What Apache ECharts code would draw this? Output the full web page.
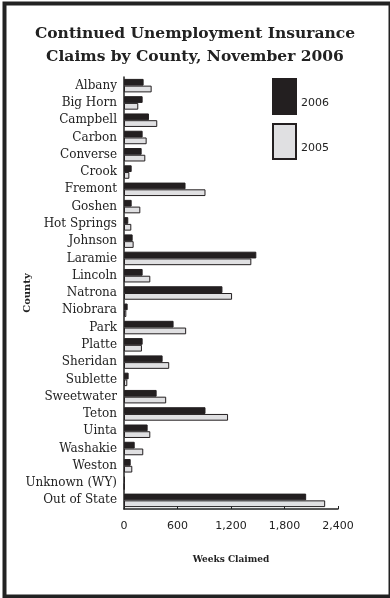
<!DOCTYPE html>
<html><head><meta charset="utf-8">
<script src="https://cdn.jsdelivr.net/npm/echarts@6/dist/echarts.min.js"></script>
<style>html,body{margin:0;padding:0;background:#fff}#c{width:390px;height:598px}</style>
</head><body><div id="c"></div>
<script>
const counties = ["Albany","Big Horn","Campbell","Carbon","Converse","Crook","Fremont","Goshen","Hot Springs","Johnson","Laramie","Lincoln","Natrona","Niobrara","Park","Platte","Sheridan","Sublette","Sweetwater","Teton","Uinta","Washakie","Weston","Unknown (WY)","Out of State"];
const claims2006 = [220,209,280,209,198,86,690,86,48,97,1484,209,1104,41,556,209,433,52,366,914,265,120,75,10,2043];
const claims2005 = [310,160,373,254,239,60,914,183,82,108,1428,295,1212,26,697,201,507,37,473,1167,295,216,93,5,2256];
const xTicks = [0,600,1200,1800,2400];
</script>
<script>
const chart = echarts.init(document.getElementById('c'));
const serif = '"DejaVu Serif", serif';
const sans = '"DejaVu Sans", sans-serif';
function commas(v){return String(v).replace(/\B(?=(\d{3})+(?!\d))/g, ',');}
chart.setOption({
  animation:false,
  backgroundColor:'#fff',
  title:{
    text:'Continued Unemployment Insurance\nClaims by County, November 2006',
    left:'center', top:17,
    textStyle:{fontFamily:serif,fontWeight:'bold',fontSize:15.5,lineHeight:23,color:'#222'}
  },
  legend:{
    orient:'vertical', left:267, top:73,
    icon:'rect',
    itemWidth:23, itemHeight:35, itemGap:8,
    data:['2006','2005'],
    formatter:function(n){return '\n' + n;},
    textStyle:{fontFamily:sans,fontSize:11,color:'#222',lineHeight:13}
  },
  grid:{left:124,right:52,top:77,bottom:89},
  xAxis:{
    type:'value', min:xTicks[0], max:xTicks[xTicks.length-1], interval:600,
    name:'Weeks Claimed', nameLocation:'middle', nameGap:46,
    nameTextStyle:{fontFamily:serif,fontWeight:'bold',fontSize:9,color:'#222'},
    axisLine:{show:true,lineStyle:{color:'#222',width:1.5}},
    axisTick:{show:true,inside:true,length:3,lineStyle:{color:'#222'}},
    splitLine:{show:false},
    axisLabel:{fontFamily:sans,fontSize:11,color:'#222',margin:12,formatter:commas}
  },
  yAxis:{
    type:'category', data:counties, inverse:true,
    name:'County', nameLocation:'middle', nameGap:92, nameRotate:90, nameMoveOverlap:false,
    nameTextStyle:{fontFamily:serif,fontWeight:'bold',fontSize:10,color:'#222'},
    axisLine:{show:true,lineStyle:{color:'#222',width:1.5}},
    axisTick:{show:false},
    axisLabel:{fontFamily:serif,fontSize:12,color:'#222',margin:7}
  },
  series:[
    {name:'2006',type:'bar',data:claims2006,barGap:'0%',barCategoryGap:'22%',
     itemStyle:{color:'#231f20',borderColor:'#231f20',borderWidth:1}},
    {name:'2005',type:'bar',data:claims2005,
     itemStyle:{color:'#e0e0e2',borderColor:'#231f20',borderWidth:1}}
  ],
  graphic:[
    {type:'rect',left:2,top:1,shape:{width:386,height:593},
     style:{fill:'none',stroke:'#222',lineWidth:4},silent:true}
  ]
});
</script>
</body></html>
